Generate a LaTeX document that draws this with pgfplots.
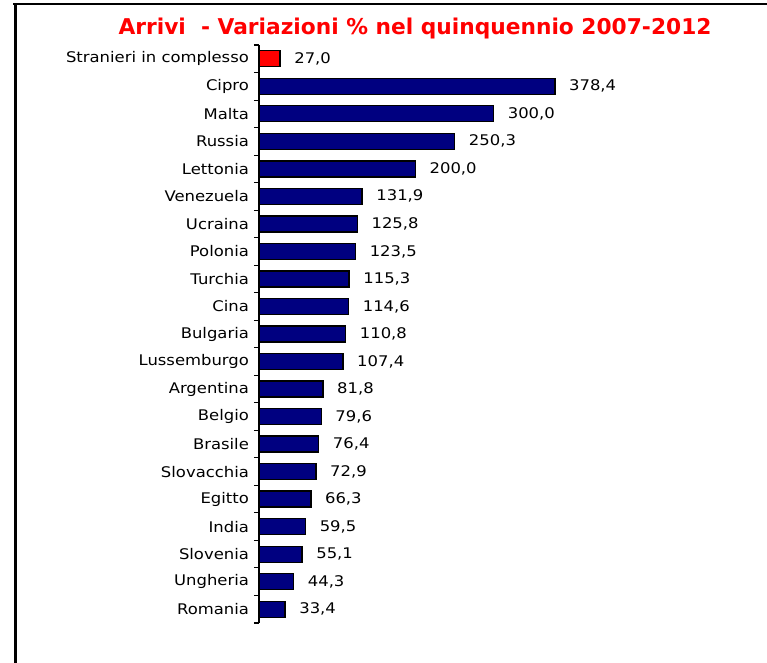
\documentclass[border=0pt]{standalone}
\usepackage{pgfplots}
\pgfplotsset{compat=1.18}
\usepackage{fontspec}
\setmainfont{DejaVu Sans}[FakeStretch=1.12]
\newfontfamily\titlefont{DejaVu Sans}
\definecolor{navy}{RGB}{0,0,128}
\pgfplotsset{/pgf/number format/.cd, fixed, fixed zerofill, precision=1, use comma, 1000 sep={}, assume math mode=true}
\begin{document}
\fontsize{11pt}{13pt}\selectfont
\begin{tikzpicture}
\useasboundingbox (0,0) rectangle (575.25pt,-497.25pt);
\draw[line width=1.8pt] (10pt,-3pt) -- (575.25pt,-3pt);
\draw[line width=1.8pt] (11.5pt,-3pt) -- (11.5pt,-497.25pt);
\node[text=red, font=\titlefont\fontsize{16.3pt}{18pt}\selectfont\bfseries] at (311.25pt,-21.5pt) {Arrivi\ \ - Variazioni \% nel quinquennio 2007-2012};
\begin{axis}[
  at={(194.25pt,-33.75pt)}, anchor=north west,
  scale only axis, width=234.6pt, height=433.5pt,
  xmin=0, xmax=400, ymin=-0.5, ymax=20.5, y dir=reverse,
  axis x line=none, axis y line*=left,
  axis line style={black, line width=1pt},
  ytick={0,...,20},
  yticklabels={Stranieri in complesso, Cipro, Malta, Russia, Lettonia, Venezuela, Ucraina, Polonia, Turchia, Cina, Bulgaria, Lussemburgo, Argentina, Belgio, Brasile, Slovacchia, Egitto, India, Slovenia, Ungheria, Romania},
  minor ytick={-0.5,0.5,...,20.5},
  major tick length=0pt, minor tick length=3.75pt,
  tick align=outside,
  every tick/.style={black, line width=0.8pt},
  yticklabel style={xshift=-3.7pt, font=\fontsize{11pt}{13pt}\selectfont},
  xbar, bar width=12pt, bar shift=0pt,
  nodes near coords,
  nodes near coords style={anchor=west, xshift=6.5pt, font=\fontsize{11pt}{13pt}\selectfont, text=black},
  clip=false,
]
\addplot[fill=red, draw=black, line width=1pt] coordinates {(27.0,0)};
\addplot[fill=navy, draw=black, line width=1pt] coordinates {
(378.4,1) (300.0,2) (250.3,3) (200.0,4) (131.9,5) (125.8,6) (123.5,7) (115.3,8) (114.6,9) (110.8,10)
(107.4,11) (81.8,12) (79.6,13) (76.4,14) (72.9,15) (66.3,16) (59.5,17) (55.1,18) (44.3,19) (33.4,20)};
\end{axis}
\end{tikzpicture}
\end{document}
